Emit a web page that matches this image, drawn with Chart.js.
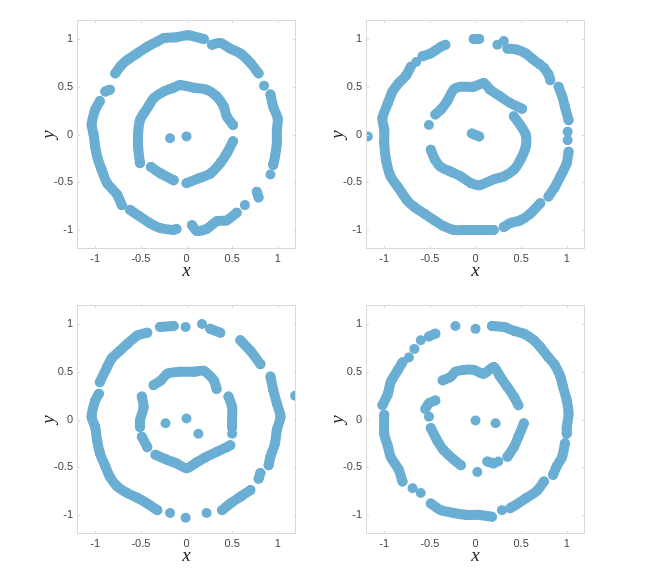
<!DOCTYPE html>
<html>
<head>
<meta charset="utf-8">
<script src="https://cdn.jsdelivr.net/npm/chart.js@4/dist/chart.umd.min.js"></script>
<style>
  body { margin: 0; background: #fff; width: 657px; height: 574px; position: relative; overflow: hidden; }
  .panel { position: absolute; width: 310px; height: 290px; }
</style>
</head>
<body>
<div class="panel" style="left:0;top:0"><canvas id="c1" width="310" height="290"></canvas></div>
<div class="panel" style="left:289px;top:0"><canvas id="c2" width="310" height="290"></canvas></div>
<div class="panel" style="left:0;top:285px"><canvas id="c3" width="310" height="290"></canvas></div>
<div class="panel" style="left:289px;top:285px"><canvas id="c4" width="310" height="290"></canvas></div>
<script>
// axis ticks shared by all four panels
const tickVals = [-1, -0.5, 0, 0.5, 1];
const axisMin = -1.2, axisMax = 1.2;

// each entry is one visible run of points as [x, y]
const outer1 = [
  [[-0.78,0.64],[-0.72,0.72],[-0.65,0.78],[-0.54,0.85],[-0.43,0.92],[-0.32,0.975],[-0.25,1.01],[-0.11,1.02],[0.02,1.04],[0.19,1.0]],
  [[0.28,0.94],[0.37,0.96],[0.48,0.9],[0.59,0.85],[0.70,0.75],[0.79,0.64]],
  [[0.85,0.51]],
  [[0.92,0.42],[0.95,0.29],[1.0,0.17],[0.99,0.05],[0.99,-0.09],[0.97,-0.23],[0.95,-0.32]],
  [[0.92,-0.42]],
  [[0.77,-0.6],[0.79,-0.66]],
  [[0.64,-0.74]],
  [[0.55,-0.82],[0.44,-0.9],[0.33,-0.91],[0.22,-0.99],[0.11,-1.01],[0.06,-0.95]],
  [[-0.11,-0.99],[-0.14,-1.0],[-0.29,-0.98],[-0.40,-0.93],[-0.51,-0.86],[-0.62,-0.79]],
  [[-0.71,-0.74],[-0.76,-0.63],[-0.87,-0.51],[-0.93,-0.37],[-0.98,-0.23],[-1.0,-0.13],[-1.02,0.01],[-1.04,0.1],[-1.0,0.26],[-0.95,0.35]],
  [[-0.89,0.45],[-0.84,0.47]]
];
const inner1 = [
  [[-0.51,-0.30],[-0.53,-0.13],[-0.53,0.01],[-0.51,0.15],[-0.47,0.22],[-0.42,0.29],[-0.36,0.38],[-0.25,0.45],[-0.14,0.49],[-0.07,0.52],[0.08,0.49],[0.22,0.47],[0.33,0.40],[0.41,0.29],[0.44,0.19],[0.51,0.10]],
  [[0.51,-0.07],[0.44,-0.2],[0.37,-0.30],[0.26,-0.41],[0.13,-0.46],[0.0,-0.51]],
  [[-0.39,-0.34],[-0.28,-0.41],[-0.14,-0.48]]
];
const center1 = [[[-0.18,-0.04]], [[0.0,-0.02]]];

const outer2 = [
  [[-0.02,1.0],[0.04,1.0]],
  [[0.24,0.94]],
  [[0.31,0.98]],
  [[0.35,0.90],[0.45,0.89],[0.55,0.85],[0.64,0.78],[0.71,0.73]],
  [[0.75,0.70],[0.80,0.63],[0.82,0.57]],
  [[0.91,0.50],[0.95,0.40],[0.98,0.29],[1.02,0.15]],
  [[1.01,0.03]],
  [[1.01,-0.06]],
  [[1.02,-0.18],[1.0,-0.30],[0.93,-0.44],[0.87,-0.55],[0.80,-0.65]],
  [[0.71,-0.72],[0.60,-0.83],[0.49,-0.90],[0.38,-0.93],[0.31,-0.97]],
  [[0.2,-1.0],[0.05,-1.0],[-0.09,-1.0],[-0.24,-1.0],[-0.35,-0.96],[-0.45,-0.90],[-0.56,-0.83],[-0.67,-0.76],[-0.75,-0.69],[-0.85,-0.55],[-0.93,-0.44],[-0.98,-0.27],[-1.0,-0.09],[-1.0,0.05],[-1.02,0.17],[-0.96,0.33],[-0.91,0.45],[-0.84,0.54],[-0.76,0.62],[-0.71,0.71]],
  [[-0.65,0.76]],
  [[-0.58,0.82],[-0.49,0.85],[-0.38,0.92],[-0.33,0.94]],
  [[-1.18,-0.02]]
];
const inner2 = [
  [[-0.51,0.10]],
  [[-0.44,0.21],[-0.38,0.26],[-0.31,0.35],[-0.24,0.47],[-0.16,0.50],[-0.02,0.50],[0.09,0.54],[0.16,0.47],[0.27,0.40],[0.38,0.33],[0.51,0.27]],
  [[0.42,0.19],[0.49,0.10],[0.55,0.0],[0.55,-0.13],[0.49,-0.27],[0.42,-0.37],[0.31,-0.44],[0.2,-0.47],[0.05,-0.53],[-0.05,-0.51],[-0.16,-0.44],[-0.27,-0.39],[-0.38,-0.34],[-0.44,-0.27],[-0.49,-0.16]]
];
const center2 = [[[-0.04,0.01],[0.04,-0.02]]];

const outer3 = [
  [[-0.95,0.39],[-0.87,0.55],[-0.82,0.64],[-0.73,0.72],[-0.65,0.79],[-0.54,0.88],[-0.43,0.91]],
  [[-0.29,0.97],[-0.14,0.98]],
  [[-0.01,0.97]],
  [[0.17,1.0]],
  [[0.26,0.95],[0.37,0.91]],
  [[0.59,0.83],[0.70,0.72],[0.81,0.58]],
  [[0.92,0.45],[0.95,0.31],[0.99,0.17],[1.03,0.03],[0.99,-0.11],[0.97,-0.25],[0.92,-0.39],[0.90,-0.48]],
  [[1.19,0.25]],
  [[0.81,-0.56],[0.79,-0.62]],
  [[0.70,-0.74],[0.59,-0.81],[0.48,-0.88],[0.39,-0.95]],
  [[0.22,-0.98]],
  [[-0.01,-1.03]],
  [[-0.18,-0.98]],
  [[-0.32,-0.95],[-0.43,-0.88],[-0.54,-0.82],[-0.65,-0.77],[-0.76,-0.70],[-0.84,-0.60],[-0.89,-0.49],[-0.95,-0.35],[-0.98,-0.22],[-1.0,-0.08],[-1.04,0.03],[-1.0,0.2],[-0.96,0.27]]
];
const inner3 = [
  [[-0.36,0.36],[-0.28,0.41],[-0.21,0.48],[-0.07,0.50],[0.08,0.50],[0.19,0.51],[0.3,0.41],[0.33,0.32]],
  [[-0.49,0.24],[-0.47,0.13],[-0.51,-0.01],[-0.51,-0.08]],
  [[-0.49,-0.18],[-0.43,-0.29]],
  [[0.46,0.24],[0.5,0.13],[0.5,0.01],[0.5,-0.08]],
  [[0.5,-0.15]],
  [[-0.34,-0.37],[-0.22,-0.42],[-0.11,-0.46],[0.0,-0.51],[0.11,-0.45],[0.22,-0.39],[0.33,-0.34],[0.44,-0.29],[0.48,-0.27]]
];
const center3 = [[[-0.23,-0.04]], [[0.0,0.01]], [[0.13,-0.15]]];

const outer4 = [
  [[-0.22,0.98]],
  [[0.0,0.95]],
  [[0.18,0.98],[0.31,0.97],[0.42,0.93],[0.53,0.90],[0.64,0.83],[0.71,0.76],[0.80,0.65],[0.87,0.57],[0.93,0.45],[0.96,0.34],[1.0,0.20],[1.02,0.06],[1.0,-0.08],[1.0,-0.15]],
  [[0.98,-0.25],[0.95,-0.39],[0.89,-0.49],[0.85,-0.58]],
  [[0.75,-0.65],[0.67,-0.75],[0.56,-0.82],[0.45,-0.89],[0.38,-0.93]],
  [[0.29,-0.95]],
  [[0.18,-1.02],[0.05,-1.0],[-0.09,-1.0],[-0.24,-0.98],[-0.38,-0.95],[-0.49,-0.88]],
  [[-0.6,-0.77]],
  [[-0.69,-0.72]],
  [[-0.80,-0.65],[-0.84,-0.53],[-0.93,-0.39],[-0.96,-0.28],[-1.0,-0.15],[-1.0,0.05]],
  [[-1.02,0.15],[-0.96,0.27],[-0.93,0.39],[-0.85,0.52],[-0.8,0.60]],
  [[-0.73,0.65]],
  [[-0.67,0.74]],
  [[-0.6,0.83]],
  [[-0.51,0.87],[-0.44,0.9]]
];
const inner4 = [
  [[-0.55,0.11],[-0.51,0.17],[-0.44,0.2]],
  [[-0.51,0.03]],
  [[-0.36,0.41],[-0.27,0.45],[-0.22,0.50],[-0.13,0.52],[-0.02,0.52],[0.09,0.48],[0.2,0.55],[0.27,0.45],[0.35,0.34],[0.42,0.24],[0.47,0.15]],
  [[0.53,-0.04],[0.47,-0.18],[0.42,-0.29],[0.35,-0.39]],
  [[0.25,-0.44]],
  [[-0.49,-0.09],[-0.42,-0.22],[-0.35,-0.32],[-0.24,-0.42],[-0.16,-0.48]],
  [[0.02,-0.55]],
  [[0.13,-0.44],[0.2,-0.46]]
];
const center4 = [[[0.0,-0.01]], [[0.22,-0.04]]];

const dotColor = '#6aaed3';
const frameColor = '#d9d9d9';

// frame box, inward ticks and the italic axis names
const framePlugin = {
  id: 'frame',
  afterDraw(chart) {
    const { ctx, chartArea: a, scales } = chart;
    ctx.save();
    ctx.strokeStyle = frameColor;
    ctx.lineWidth = 1;
    ctx.strokeRect(a.left + 0.5, a.top + 0.5, a.right - a.left - 1, a.bottom - a.top - 1);
    ctx.beginPath();
    tickVals.forEach(v => {
      const px = Math.round(scales.x.getPixelForValue(v)) + 0.5;
      const py = Math.round(scales.y.getPixelForValue(v)) + 0.5;
      ctx.moveTo(px, a.bottom); ctx.lineTo(px, a.bottom - 3);
      ctx.moveTo(px, a.top); ctx.lineTo(px, a.top + 3);
      ctx.moveTo(a.left, py); ctx.lineTo(a.left + 3, py);
      ctx.moveTo(a.right, py); ctx.lineTo(a.right - 3, py);
    });
    ctx.stroke();

    ctx.fillStyle = '#222';
    ctx.font = 'italic 19px "Liberation Serif", "DejaVu Serif", serif';
    ctx.textAlign = 'center';
    ctx.textBaseline = 'middle';
    ctx.fillText('x', (a.left + a.right) / 2, a.bottom + 22);
    ctx.translate(a.left - 28, (a.top + a.bottom) / 2);
    ctx.rotate(-Math.PI / 2);
    ctx.fillText('y', 0, 0);
    ctx.restore();
  }
};

function toDatasets(runs) {
  return runs.map(run => ({
    data: run.map(([x, y]) => ({ x, y })),
    showLine: run.length > 1,
    borderColor: dotColor,
    backgroundColor: dotColor,
    borderWidth: 10,
    borderCapStyle: 'round',
    borderJoinStyle: 'round',
    tension: 0.25,
    pointRadius: 5,
    pointBorderWidth: 0,
    pointHoverRadius: 0
  }));
}

function makeAxis(extra) {
  return Object.assign({
    type: 'linear',
    min: axisMin,
    max: axisMax,
    grid: { display: false, drawTicks: false },
    border: { display: false },
    afterBuildTicks: s => { s.ticks = tickVals.map(v => ({ value: v })); },
    ticks: {
      color: '#444',
      font: { family: '"Liberation Sans", Arial, sans-serif', size: 11 },
      callback: v => String(v)
    }
  }, extra);
}

function drawPanel(id, outer, inner, center) {
  new Chart(document.getElementById(id), {
    type: 'scatter',
    data: { datasets: toDatasets([...outer, ...inner, ...center]) },
    options: {
      responsive: false,
      animation: false,
      events: [],
      layout: { padding: { top: 20, right: 14, left: 1, bottom: 0 } },
      plugins: { legend: { display: false }, tooltip: { enabled: false } },
      scales: {
        x: makeAxis({ afterFit: s => { s.height = 41; }, ticks: Object.assign({}, makeAxis().ticks, { padding: 3, maxRotation: 0 }) }),
        y: makeAxis({ afterFit: s => { s.width = 76; }, ticks: Object.assign({}, makeAxis().ticks, { padding: 4 }) })
      }
    },
    plugins: [framePlugin]
  });
}

drawPanel('c1', outer1, inner1, center1);
drawPanel('c2', outer2, inner2, center2);
drawPanel('c3', outer3, inner3, center3);
drawPanel('c4', outer4, inner4, center4);
</script>
</body>
</html>
